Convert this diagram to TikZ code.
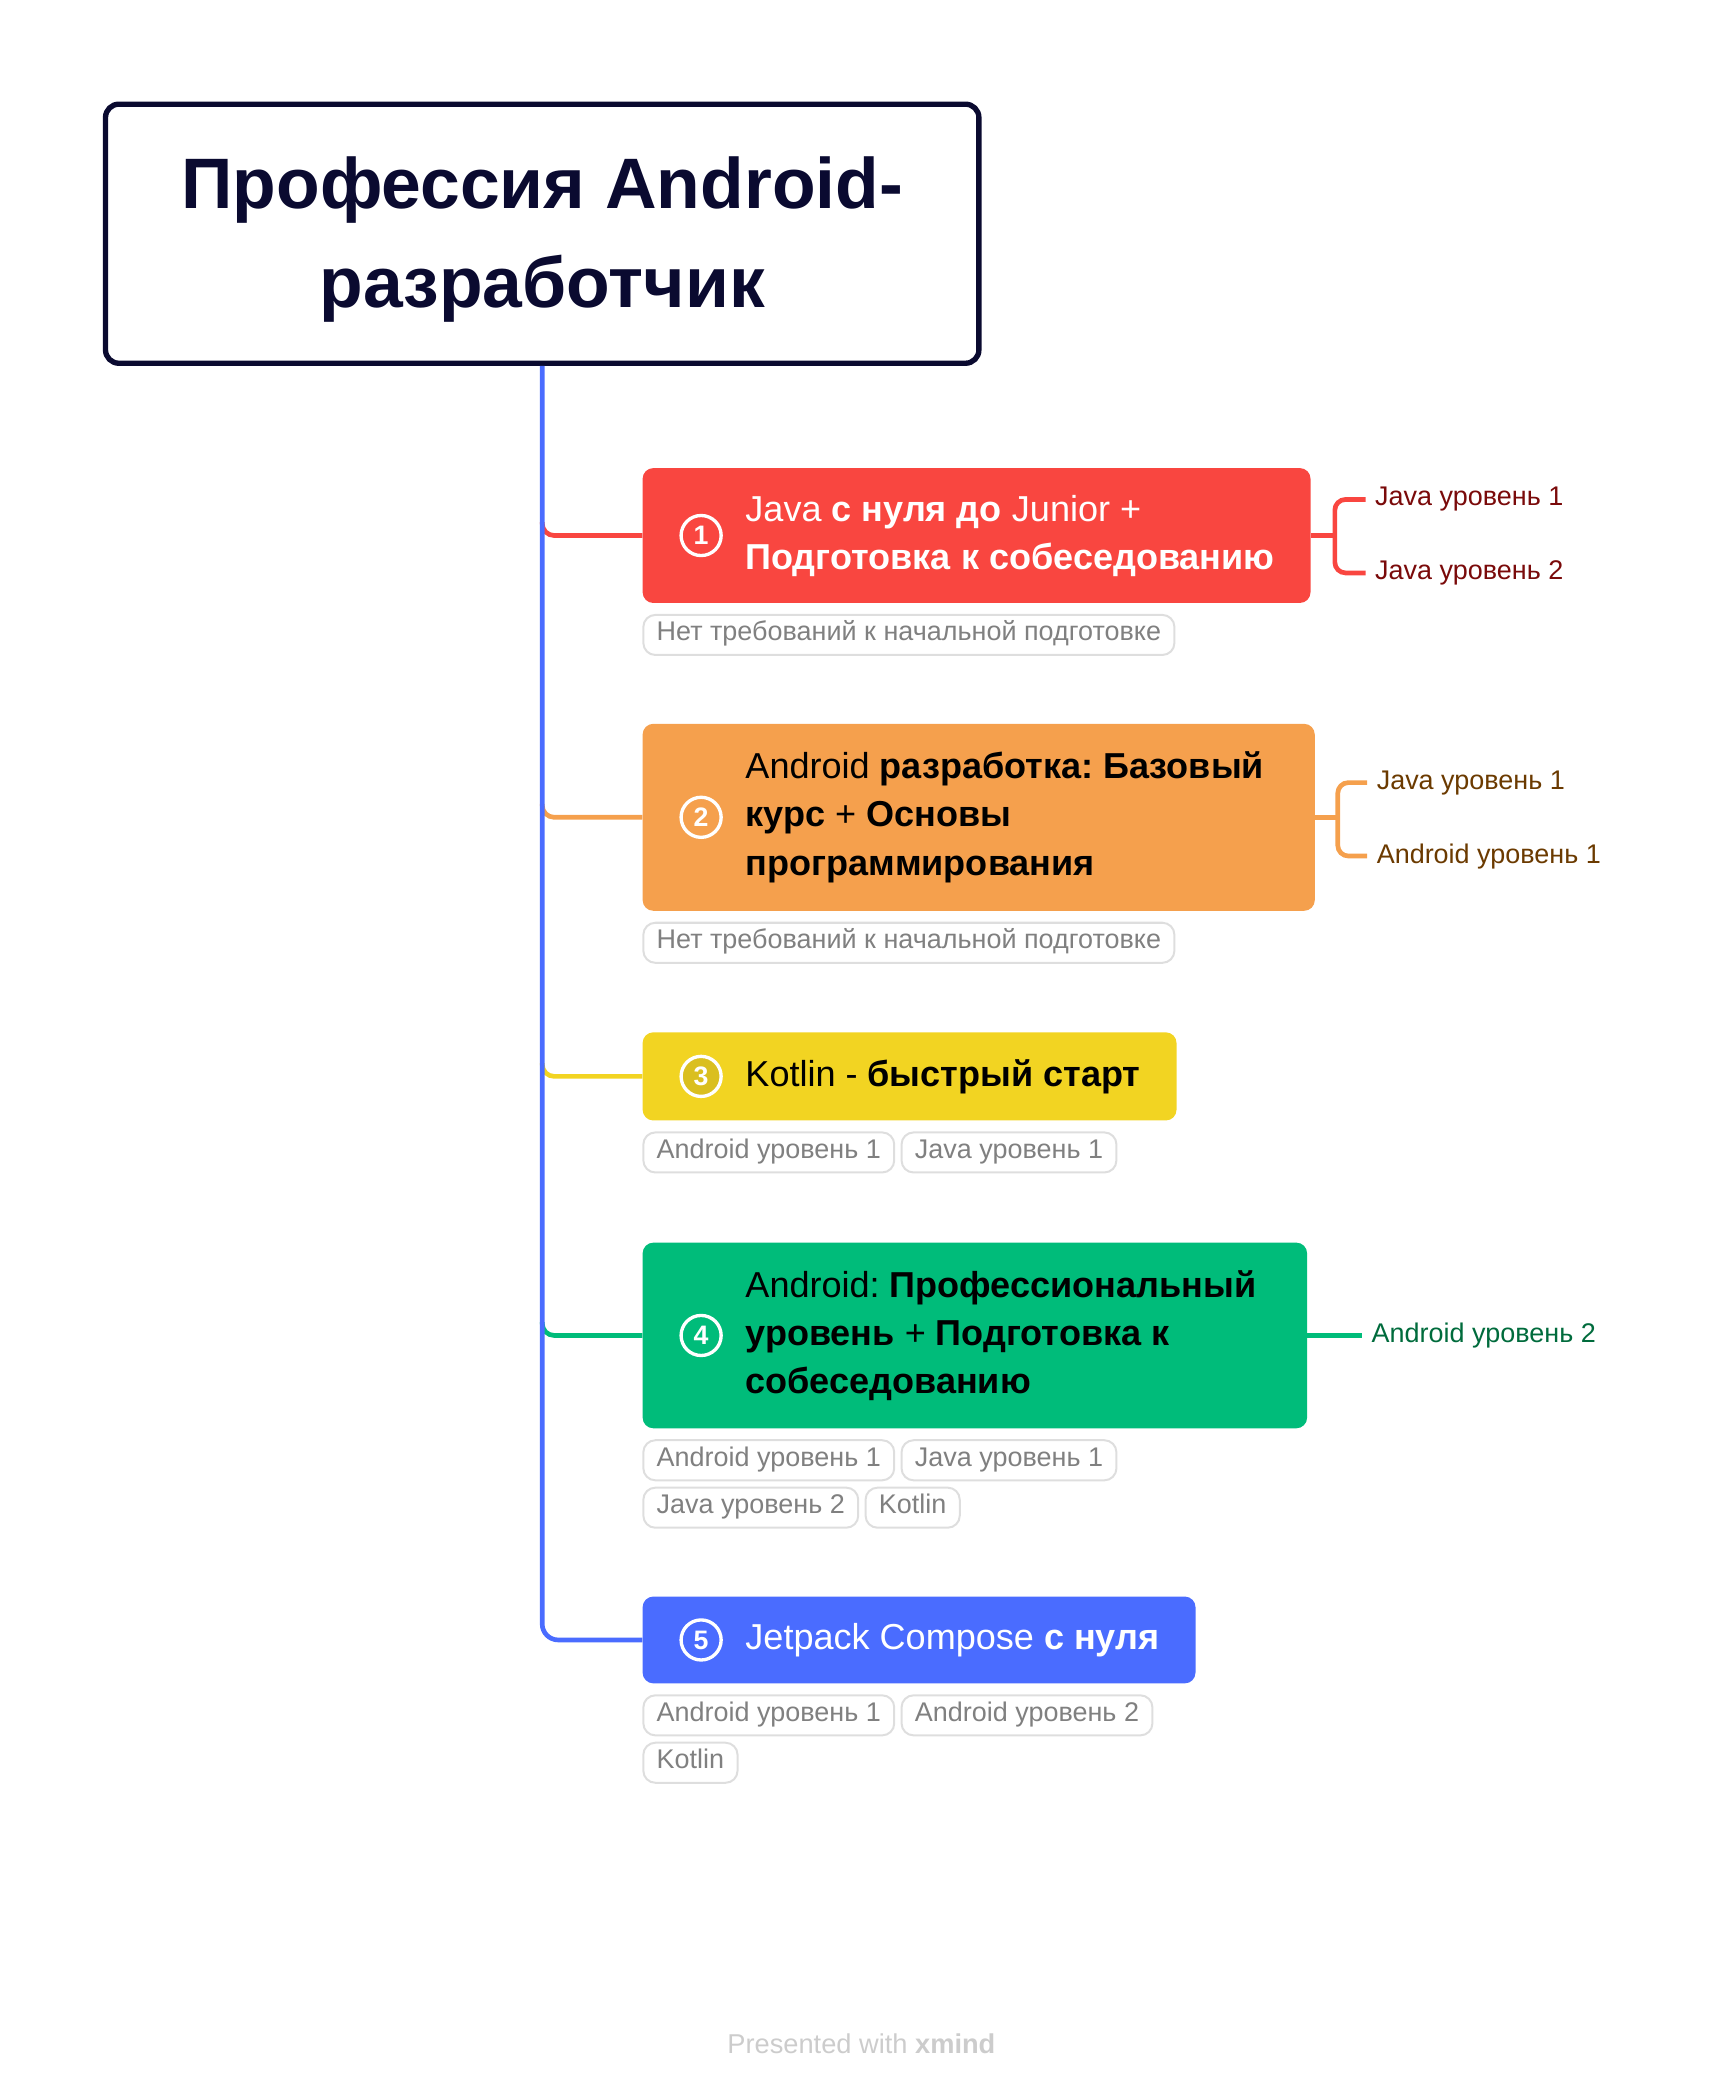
\documentclass[tikz,border=0pt]{standalone}
\usepackage{fontspec}
\setmainfont{Liberation Sans}
\usepackage{tikz}
\usetikzlibrary{positioning}
\frenchspacing
\definecolor{navy}{HTML}{0A0A30}
\definecolor{javared}{HTML}{F94640}
\definecolor{javadark}{HTML}{7A0A0A}
\definecolor{droidorange}{HTML}{F5A04D}
\definecolor{droiddark}{HTML}{6B3A00}
\definecolor{kotlinyellow}{HTML}{F2D422}
\definecolor{progreen}{HTML}{00BC7A}
\definecolor{prodark}{HTML}{006B3C}
\definecolor{composeblue}{HTML}{4A6CFF}
\definecolor{tagline}{HTML}{DEDEDE}
\definecolor{tagtext}{HTML}{808080}
\tikzstyle{title} = [rectangle, rounded corners=10pt, draw=navy, line width=4pt, minimum width=654pt, minimum height=194pt, align=center, text=navy, font=\fontsize{53.5}{74}\selectfont\bfseries]
\tikzstyle{topic} = [rectangle, rounded corners=8pt, inner xsep=27pt, inner ysep=0pt, anchor=west, font=\fontsize{27}{36}\selectfont]
\tikzstyle{badge} = [circle, draw=white, line width=2.5pt, minimum size=30pt, inner sep=0pt, text=white, font=\fontsize{20}{20}\selectfont\bfseries]
\tikzstyle{tag} = [rectangle, rounded corners=9pt, draw=tagline, line width=1.5pt, inner xsep=10pt, inner ysep=0pt, minimum height=30pt, text height=14pt, text depth=5pt, text=tagtext, font=\fontsize{20.2}{20}\selectfont]
\tikzstyle{sub} = [inner xsep=7pt, anchor=west, font=\fontsize{20.2}{20}\selectfont]
\tikzstyle{branch} = [line width=3.5pt, rounded corners=9pt]

\begin{document}
\begin{tikzpicture}[x=1pt, y=-1pt]
\useasboundingbox (0,0) rectangle (1294,1569.5);

\node (title) [title] at (406,175) {\rule{0pt}{48pt}Профессия Android-\\разработчик};

% main topics
\node (java_zero) [topic, fill=javared, text=white, minimum height=101pt] at (481,401) {\hspace*{50pt}\begin{tabular}{@{}l@{}}Java \textbf{с нуля до} Junior +\\\textbf{Подготовка к собеседованию}\end{tabular}};
\node (android_base) [topic, fill=droidorange, minimum height=140pt] at (481,612) {\hspace*{50pt}\begin{tabular}{@{}l@{}}Android \textbf{разработка: Базовый}\\\textbf{курс} + \textbf{Основы}\\\textbf{программирования}\end{tabular}\hspace*{11pt}};
\node (kotlin_start) [topic, fill=kotlinyellow, minimum height=66pt] at (481,806) {\hspace*{50pt}Kotlin - \textbf{быстрый старт}};
\node (android_pro) [topic, fill=progreen, minimum height=139pt] at (481,1000) {\hspace*{50pt}\begin{tabular}{@{}l@{}}Android: \textbf{Профессиональный}\\\textbf{уровень} + \textbf{Подготовка к}\\\textbf{собеседованию}\end{tabular}\hspace*{11pt}};
\node (compose_zero) [topic, fill=composeblue, text=white, minimum height=65pt] at (481,1228) {\hspace*{50pt}Jetpack Compose \textbf{с нуля}};

\node (num_java) [badge, fill=javared] at ([xshift=44pt]java_zero.west) {1};
\node (num_base) [badge, fill=droidorange] at ([xshift=44pt]android_base.west) {2};
\node (num_kotlin) [badge, fill=kotlinyellow!90!black] at ([xshift=44pt]kotlin_start.west) {3};
\node (num_pro) [badge, fill=progreen] at ([xshift=44pt]android_pro.west) {4};
\node (num_compose) [badge, fill=composeblue] at ([xshift=44pt]compose_zero.west) {5};

% tags
\node (tag_java) [tag, anchor=north west] at ([yshift=-8pt]java_zero.south west) {Нет требований к начальной подготовке};
\node (tag_base) [tag, anchor=north west] at ([yshift=-8pt]android_base.south west) {Нет требований к начальной подготовке};
\node (tag_kotlin_a) [tag, anchor=north west] at ([yshift=-8pt]kotlin_start.south west) {Android уровень 1};
\node (tag_kotlin_b) [tag, right=4pt of tag_kotlin_a] {Java уровень 1};
\node (tag_pro_a) [tag, anchor=north west] at ([yshift=-8pt]android_pro.south west) {Android уровень 1};
\node (tag_pro_b) [tag, right=4pt of tag_pro_a] {Java уровень 1};
\node (tag_pro_c) [tag, anchor=north west] at ([yshift=-4pt]tag_pro_a.south west) {Java уровень 2};
\node (tag_pro_d) [tag, right=4pt of tag_pro_c] {Kotlin};
\node (tag_compose_a) [tag, anchor=north west] at ([yshift=-8pt]compose_zero.south west) {Android уровень 1};
\node (tag_compose_b) [tag, right=4pt of tag_compose_a] {Android уровень 2};
\node (tag_compose_c) [tag, anchor=north west] at ([yshift=-4pt]tag_compose_a.south west) {Kotlin};

% subtopics
\node (java_lvl1) [sub, text=javadark] at ([shift={(41pt,27pt)}]java_zero.east) {Java уровень 1};
\node (java_lvl2) [sub, text=javadark] at ([shift={(41pt,-28pt)}]java_zero.east) {Java уровень 2};
\node (base_java) [sub, text=droiddark] at ([shift={(39pt,26pt)}]android_base.east) {Java уровень 1};
\node (base_droid) [sub, text=droiddark] at ([shift={(39pt,-29pt)}]android_base.east) {Android уровень 1};
\node (pro_lvl2) [sub, text=prodark] at ([xshift=41pt]android_pro.east) {Android уровень 2};
\coordinate (java_fork) at ([xshift=18pt]java_zero.east);
\coordinate (base_fork) at ([xshift=17pt]android_base.east);

\node (footer) [text=black!20, font=\fontsize{20.4}{20}\selectfont] at (645,1530) {Presented with \textbf{xmind}};

% connectors
\draw [branch, draw=javared] ([yshift=10pt]title.south |- java_zero.west) |- (java_zero.west);
\draw [branch, draw=droidorange] ([yshift=10pt]title.south |- android_base.west) |- (android_base.west);
\draw [branch, draw=kotlinyellow] ([yshift=10pt]title.south |- kotlin_start.west) |- (kotlin_start.west);
\draw [branch, draw=progreen] ([yshift=10pt]title.south |- android_pro.west) |- (android_pro.west);
\draw [branch, draw=composeblue, rounded corners=12pt] (title.south) |- (compose_zero.west);

\draw [branch, draw=javared] (java_zero.east) -- (java_fork);
\draw [branch, draw=javared, rounded corners=8pt] (java_lvl1.west) -| (java_fork) |- (java_lvl2.west);
\draw [branch, draw=droidorange] (android_base.east) -- (base_fork);
\draw [branch, draw=droidorange, rounded corners=8pt] (base_java.west) -| (base_fork) |- (base_droid.west);
\draw [branch, draw=progreen] (android_pro.east) -- (pro_lvl2.west);
\end{tikzpicture}
\end{document}
